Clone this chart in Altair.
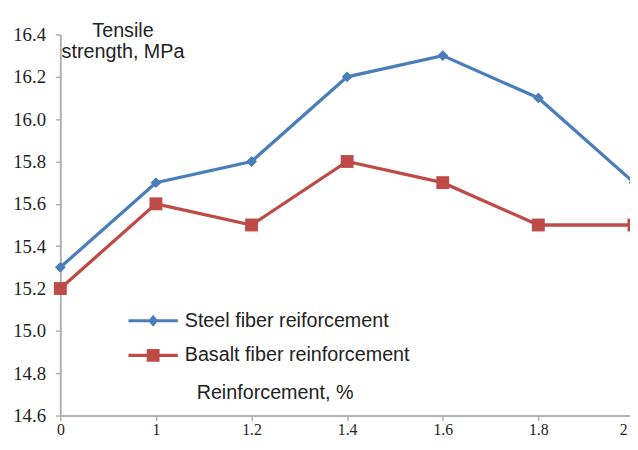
import json
import altair as alt
import pandas as pd

reinforcement = ["0", "1", "1.2", "1.4", "1.6", "1.8", "2"]
steel = [15.3, 15.7, 15.8, 16.2, 16.3, 16.1, 15.7]
basalt = [15.2, 15.6, 15.5, 15.8, 15.7, 15.5, 15.5]
series = ["Steel fiber reiforcement", "Basalt fiber reinforcement"]
colors = ["#4a7ebb", "#be4b48"]
markers = ["diamond", "square"]
marker_sizes = [120, 170]
y_ticks = [14.6, 14.8, 15.0, 15.2, 15.4, 15.6, 15.8, 16.0, 16.2, 16.4]

rows = []
for i, lab in enumerate(reinforcement):
    rows.append({"pos": i, "label": lab, "series": series[0], "value": steel[i]})
    rows.append({"pos": i, "label": lab, "series": series[1], "value": basalt[i]})
df = pd.DataFrame(rows)

# legend symbols: a line with the marker on top (custom SVG paths)
leg_steel = "M-1,-0.065L1,-0.065L1,0.065L-1,0.065Z M0,-0.24L0.2,0L0,0.24L-0.2,0Z"
leg_basalt = "M-1,-0.065L1,-0.065L1,0.065L-1,0.065Z M-0.26,-0.26L0.26,-0.26L0.26,0.26L-0.26,0.26Z"

axis_gray = "#b0b0b0"
text_col = "#222222"
last = len(reinforcement) - 1

x_enc = alt.X(
    "pos:Q",
    scale=alt.Scale(domain=[0, last], range=[0, 581], nice=False, zero=False),
    axis=alt.Axis(
        values=list(range(len(reinforcement))),
        labelExpr=json.dumps(reinforcement) + "[datum.value]",
        grid=False,
        domainColor=axis_gray,
        domainWidth=2,
        tickColor=axis_gray,
        tickWidth=1.5,
        tickSize=5,
        labelFont="Liberation Serif",
        labelFontSize=16,
        labelColor=text_col,
        labelPadding=1,
        labelFlush=False,
        labelOverlap=False,
        labelAlign={"condition": {"test": f"datum.value == {last}", "value": "right"},
                    "value": "center"},
        labelOffset={"condition": {"test": f"datum.value == {last}", "value": -7},
                     "value": 0},
        title="Reinforcement, %",
        titleFont="Liberation Sans",
        titleFontSize=20,
        titleFontWeight="normal",
        titleColor=text_col,
        titleX=217,
        titleY=-23,
        titleAlign="center",
        titleBaseline="middle",
    ),
)
y_enc = alt.Y(
    "value:Q",
    scale=alt.Scale(domain=[14.6, 16.4], nice=False, zero=False),
    axis=alt.Axis(
        values=y_ticks,
        format=".1f",
        grid=False,
        domainColor=axis_gray,
        domainWidth=2,
        tickColor=axis_gray,
        tickWidth=1.5,
        tickSize=5,
        labelFont="Liberation Serif",
        labelFontSize=19,
        labelColor=text_col,
        labelPadding=10,
        labelOverlap=False,
        labelFlush=False,
        title=["Tensile", "strength, MPa"],
        titleFont="Liberation Sans",
        titleFontSize=20,
        titleFontWeight="normal",
        titleColor=text_col,
        titleAngle=0,
        titleX=63,
        titleY=-14,
        titleAlign="center",
        titleBaseline="top",
        titleLineHeight=21,
    ),
)

base = alt.Chart(df).encode(x=x_enc, y=y_enc)

layers = []
for s, c in zip(series, colors):
    layers.append(
        base.transform_filter(alt.datum.series == s).mark_line(
            strokeWidth=3.3, color=c, clip=False
        )
    )
for s, c, m, sz in zip(series, colors, markers, marker_sizes):
    layers.append(
        base.transform_filter(alt.datum.series == s).mark_point(
            shape=m, filled=True, size=sz, color=c, opacity=1, clip=False
        )
    )

legend_props = dict(
    orient="none",
    legendX=69,
    legendY=265,
    title=None,
    labelFont="Liberation Sans",
    labelFontSize=20,
    labelColor=text_col,
    labelOffset=7,
    labelLimit=0,
    symbolSize=2500,
    symbolOpacity=1,
    symbolStrokeWidth=0,
    rowPadding=-19,
)

legend_layer = base.mark_point(filled=True, opacity=0, size=2500).encode(
    color=alt.Color("series:N", scale=alt.Scale(domain=series, range=colors),
                    legend=alt.Legend(**legend_props)),
    shape=alt.Shape(
        "series:N",
        scale=alt.Scale(domain=series, range=[leg_steel, leg_basalt]),
        legend=alt.Legend(**legend_props),
    ),
)
layers.append(legend_layer)

chart = (
    alt.layer(*layers)
    .properties(
        width=577,
        height=386,
        autosize=alt.AutoSizeParams(type="none"),
        padding={"left": 53, "top": 24, "right": 0, "bottom": 24},
        background="white",
    )
    .configure_view(stroke=None)
)

chart.save("out.html", embed_options={"renderer": "svg", "actions": False})
